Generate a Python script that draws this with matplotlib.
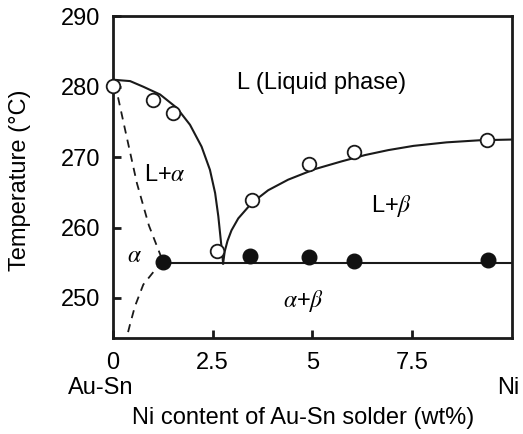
import matplotlib
matplotlib.use("Agg")
import matplotlib.pyplot as plt

plt.rcParams['font.family'] = ['Liberation Sans', 'DejaVu Sans']
plt.rcParams['mathtext.fontset'] = 'stix'

# measured points (wt% Ni, temperature in C)
open_x = [0.0, 1.0, 1.51, 2.60, 3.48, 4.90, 6.05, 9.37]
open_t = [280.1, 278.1, 276.3, 256.7, 263.9, 269.0, 270.8, 272.4]
solid_x = [1.26, 3.43, 4.90, 6.05, 9.40]
solid_t = [255.15, 256.0, 255.85, 255.2, 255.35]

# liquidus / solvus lines
liq_left_x = [0.0, 0.43, 0.76, 1.18, 1.60, 1.93, 2.22, 2.43, 2.56, 2.64, 2.70, 2.74, 2.76]
liq_left_t = [281.0, 280.8, 280.0, 278.9, 277.0, 274.6, 271.5, 268.2, 264.9, 261.6, 258.3, 256.2, 254.9]
liq_right_x = [2.76, 2.80, 2.87, 2.97, 3.14, 3.48, 3.89, 4.39, 5.06, 5.73, 6.32, 6.90, 7.53, 8.36, 9.20, 10.0]
liq_right_t = [254.9, 256.6, 258.1, 259.6, 261.3, 263.5, 265.3, 266.8, 268.3, 269.4, 270.3, 271.0, 271.6, 272.1, 272.4, 272.5]
solvus_up_x = [0.05, 0.30, 0.60, 0.90, 1.25]
solvus_up_t = [280.5, 274.0, 266.3, 260.3, 255.2]
solvus_low_x = [1.25, 1.10, 0.76, 0.55, 0.43, 0.34]
solvus_low_t = [255.2, 254.3, 251.9, 248.8, 246.3, 244.3]
eutectic_x = [1.26, 10.0]
eutectic_t = [255.0, 255.0]

fig = plt.figure(figsize=(5.23, 4.34), dpi=100)
ax = fig.add_axes([0.216, 0.221, 0.763, 0.743])

ax.plot(liq_left_x, liq_left_t, color='#1a1a1a', lw=1.5)
ax.plot(liq_right_x, liq_right_t, color='#1a1a1a', lw=1.5)
ax.plot(eutectic_x, eutectic_t, color='#1a1a1a', lw=1.5)
ax.plot(solvus_up_x, solvus_up_t, color='#1a1a1a', lw=1.3, dashes=(4.5, 3.5))
ax.plot(solvus_low_x, solvus_low_t, color='#1a1a1a', lw=1.3, dashes=(4.5, 3.5))

ax.plot(open_x, open_t, 'o', ms=9.8, mfc='white', mec='#1a1a1a', mew=1.3,
        linestyle='none', clip_on=False, zorder=5)
ax.plot(solid_x, solid_t, 'o', ms=10.5, color='#111111',
        linestyle='none', clip_on=False, zorder=5)

ax.text(5.23, 280.5, 'L (Liquid phase)', fontsize=17, ha='center', va='center')
ax.text(1.3, 267.5, r'L+$\alpha$', fontsize=17, ha='center', va='center')
ax.text(6.98, 263.0, r'L+$\beta$', fontsize=17, ha='center', va='center')
ax.text(0.55, 256.0, r'$\alpha$', fontsize=17, ha='center', va='center')
ax.text(4.77, 249.5, r'$\alpha$+$\beta$', fontsize=17, ha='center', va='center')

ax.set_xlim(0, 10)
ax.set_ylim(244.3, 290.1)
ax.set_xticks([0, 2.5, 5, 7.5])
ax.set_xticklabels(['0', '2.5', '5', '7.5'])
ax.set_yticks([250, 260, 270, 280, 290])

for s in ax.spines.values():
    s.set_linewidth(2.0)
    s.set_color('#1a1a1a')
ax.tick_params(direction='in', length=5.5, width=2.0, labelsize=17, color='#1a1a1a')
ax.tick_params(axis='x', pad=10)
ax.tick_params(axis='y', pad=9)

ax.text(-0.03, -0.155, 'Au-Sn', transform=ax.transAxes, fontsize=17, ha='center', va='center')
ax.text(0.99, -0.155, 'Ni', transform=ax.transAxes, fontsize=17, ha='center', va='center')

ax.set_xlabel('Ni content of Au-Sn solder (wt%)', fontsize=17)
ax.xaxis.set_label_coords(0.476, -0.215)
ax.set_ylabel('Temperature (°C)', fontsize=17)
ax.yaxis.set_label_coords(-0.205, 0.49)

fig.savefig('out.png', dpi=100)
